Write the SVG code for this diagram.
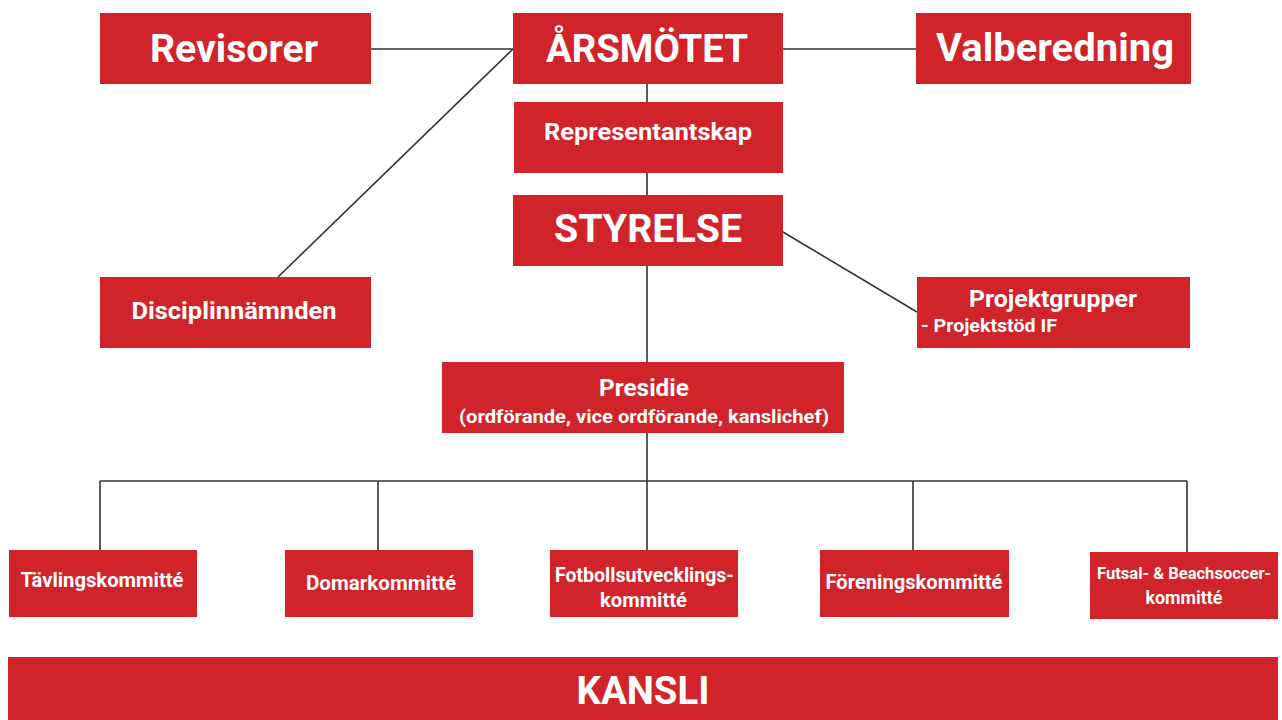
<svg xmlns="http://www.w3.org/2000/svg" width="1282" height="720" viewBox="0 0 1282 720">
<style>
.box{fill:#D0232A}
.t{fill:#fff;font-family:Roboto,"Liberation Sans",sans-serif;font-weight:700;text-anchor:middle}
.xl{font-size:39px}
.md{font-size:24px}
.sm{font-size:19px}
.cm{font-size:19.5px}
.fs{font-size:17px}
.c{stroke:#333;stroke-width:1.6;fill:none}
</style>
<rect width="1282" height="720" fill="#fff"/>
<g id="connectors" class="c">
<line x1="371" y1="49" x2="513" y2="49"/>
<line x1="783" y1="49" x2="916" y2="49"/>
<line x1="647" y1="84" x2="647" y2="102"/>
<line x1="647" y1="173" x2="647" y2="195"/>
<line x1="513" y1="49" x2="278" y2="277"/>
<line x1="783" y1="232" x2="917" y2="312"/>
<line x1="647" y1="266" x2="647" y2="362"/>
<line x1="647" y1="433" x2="647" y2="481"/>
<line x1="100" y1="481" x2="1187" y2="481"/>
<line x1="100" y1="481" x2="100" y2="550"/>
<line x1="378" y1="481" x2="378" y2="550"/>
<line x1="647" y1="481" x2="647" y2="550"/>
<line x1="913" y1="481" x2="913" y2="550"/>
<line x1="1187" y1="481" x2="1187" y2="553"/>
</g>
<g id="revisorer"><rect class="box" x="100" y="13" width="271" height="71"/><text class="t xl" x="234" y="62" textLength="168" lengthAdjust="spacingAndGlyphs">Revisorer</text></g>
<g id="arsmotet"><rect class="box" x="513" y="13" width="270" height="71"/><text class="t xl" x="647" y="62" textLength="202" lengthAdjust="spacingAndGlyphs">ÅRSMÖTET</text></g>
<g id="valberedning"><rect class="box" x="916" y="13" width="275" height="71"/><text class="t xl" x="1055" y="61" textLength="238" lengthAdjust="spacingAndGlyphs">Valberedning</text></g>
<g id="representantskap"><rect class="box" x="514" y="102" width="269" height="71"/><text class="t md" x="648" y="140" textLength="208" lengthAdjust="spacingAndGlyphs">Representantskap</text></g>
<g id="styrelse"><rect class="box" x="513" y="195" width="270" height="71"/><text class="t xl" x="648" y="242" textLength="188" lengthAdjust="spacingAndGlyphs">STYRELSE</text></g>
<g id="disciplinnamnden"><rect class="box" x="100" y="277" width="271" height="71"/><text class="t md" x="234" y="319" textLength="205" lengthAdjust="spacingAndGlyphs">Disciplinnämnden</text></g>
<g id="projektgrupper"><rect class="box" x="917" y="277" width="273" height="71"/><text class="t md" x="1053" y="307" textLength="168" lengthAdjust="spacingAndGlyphs">Projektgrupper</text><text class="t sm" x="921" y="332" style="text-anchor:start" textLength="136" lengthAdjust="spacingAndGlyphs">- Projektstöd IF</text></g>
<g id="presidie"><rect class="box" x="442" y="362" width="402" height="71"/><text class="t md" x="644" y="396" textLength="90" lengthAdjust="spacingAndGlyphs">Presidie</text><text class="t sm" x="644" y="422.5" textLength="370" lengthAdjust="spacingAndGlyphs">(ordförande, vice ordförande, kanslichef)</text></g>
<g id="tavlingskommitte"><rect class="box" x="9" y="550" width="188" height="67"/><text class="t cm" x="102" y="587" textLength="163" lengthAdjust="spacingAndGlyphs">Tävlingskommitté</text></g>
<g id="domarkommitte"><rect class="box" x="285" y="550" width="188" height="67"/><text class="t cm" x="381" y="590" textLength="150" lengthAdjust="spacingAndGlyphs">Domarkommitté</text></g>
<g id="fotbollsutvecklingskommitte"><rect class="box" x="550" y="550" width="188" height="67"/><text class="t cm" x="644.5" y="582" textLength="179" lengthAdjust="spacingAndGlyphs">Fotbollsutvecklings-</text><text class="t cm" x="643.5" y="607" textLength="87" lengthAdjust="spacingAndGlyphs">kommitté</text></g>
<g id="foreningskommitte"><rect class="box" x="820" y="550" width="189" height="67"/><text class="t cm" x="914" y="589" textLength="177" lengthAdjust="spacingAndGlyphs">Föreningskommitté</text></g>
<g id="futsalkommitte"><rect class="box" x="1090" y="552" width="188" height="67"/><text class="t fs" x="1184" y="579" textLength="174" lengthAdjust="spacingAndGlyphs">Futsal- &amp; Beachsoccer-</text><text class="t sm" x="1184" y="604" textLength="77" lengthAdjust="spacingAndGlyphs">kommitté</text></g>
<g id="kansli"><rect class="box" x="8" y="657" width="1270" height="63"/><text class="t xl" x="643" y="704" textLength="133" lengthAdjust="spacingAndGlyphs">KANSLI</text></g>
</svg>
